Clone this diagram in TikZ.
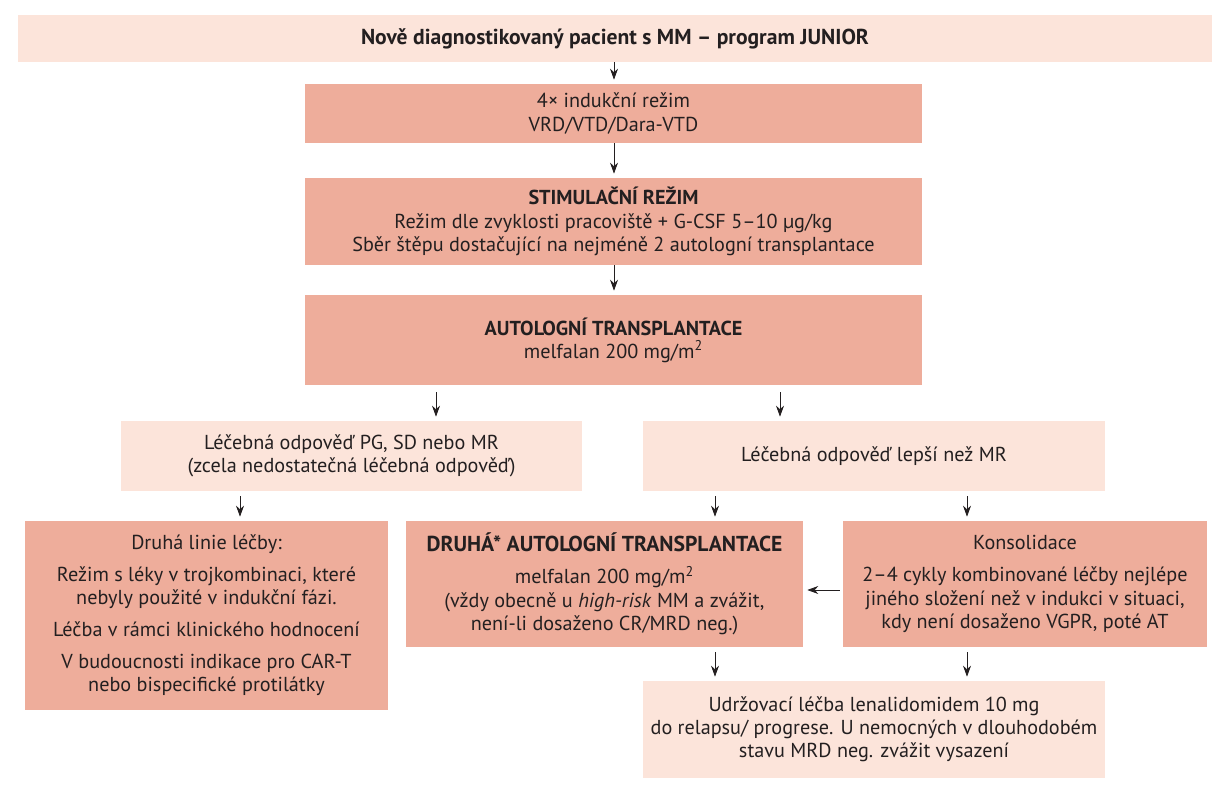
\documentclass[tikz,border=0pt]{standalone}
\usepackage{fontspec}
\setmainfont{PT Sans}
\usetikzlibrary{arrows.meta,positioning}
\definecolor{lightsalmon}{RGB}{252,228,218}
\definecolor{darksalmon}{RGB}{238,173,155}
\definecolor{inkgray}{RGB}{35,31,32}
\tikzstyle{arrow} = [thin, draw=inkgray, -{Stealth[length=0.22cm,width=0.16cm]}, shorten >=0.08cm]
\tikzstyle{lightbox} = [fill=lightsalmon, inner sep=0pt, align=center, text=inkgray]
\tikzstyle{darkbox} = [fill=darksalmon, inner sep=0pt, align=center, text=inkgray]

\begin{document}
\begin{tikzpicture}[x=0.02cm,y=-0.02cm,font=\fontsize{11.5}{13.2}\selectfont]
\useasboundingbox (0,0) rectangle (1218,800);
\node[lightbox, minimum width=23.88cm, minimum height=0.94cm] (patient) at (615,38.5) {\textbf{\fontsize{12.3}{13.2}\selectfont Nově diagnostikovaný pacient s MM – program JUNIOR}};
\node[darkbox, minimum width=12.34cm, minimum height=1.18cm] (induction) at (613.5,113.5) {4× indukční režim\\VRD/VTD/Dara-VTD};
\node[darkbox, minimum width=12.34cm, minimum height=1.74cm] (stimulation) at (613.5,221.5) {\textbf{STIMULAČNÍ REŽIM}\\Režim dle zvyklosti pracoviště + G-CSF 5–10 µg/kg\\Sběr štěpu dostačující na nejméně 2 autologní transplantace};
\node[darkbox, minimum width=12.34cm, minimum height=1.80cm] (asct) at (613.5,340) {\textbf{AUTOLOGNÍ TRANSPLANTACE}\\melfalan 200 mg/m\textsuperscript{2}};

\node[lightbox, minimum width=9.22cm, minimum height=1.40cm] (poor) at (351.5,456) {Léčebná odpověď PG, SD nebo MR\\(zcela nedostatečná léčebná odpověď)};
\node[lightbox, minimum width=9.24cm, minimum height=1.40cm] (better) at (874,456) {Léčebná odpověď lepší než MR};

\node[darkbox, minimum width=7.26cm, minimum height=3.78cm] (secondline) at (206.5,615.5) {Druhá linie léčby:\\[5pt]Režim s léky v trojkombinaci, které\\nebyly použité v indukční fázi.\\[5pt]Léčba v rámci klinického hodnocení\\[5pt]V budoucnosti indikace pro CAR-T\\nebo bispecifické protilátky};
\node[darkbox, minimum width=7.94cm, minimum height=2.52cm] (secondasct) at (604.5,584) {\textbf{\fontsize{12.3}{13.2}\selectfont DRUHÁ* AUTOLOGNÍ TRANSPLANTACE}\\[5pt]melfalan 200 mg/m\textsuperscript{2}\\(vždy obecně u \textit{high-risk} MM a zvážit,\\není-li dosaženo CR/MRD neg.)};
\node[darkbox, minimum width=7.28cm, minimum height=2.52cm] (consolidation) at (1025,584) {Konsolidace\\[5pt]2–4 cykly kombinované léčby nejlépe\\jiného složení než v indukci v situaci,\\kdy není dosaženo VGPR, poté AT};
\node[lightbox, minimum width=9.24cm, minimum height=1.94cm] (maintenance) at (874,729.5) {Udržovací léčba lenalidomidem 10 mg\\do relapsu/ progrese. U nemocných v dlouhodobém\\stavu MRD neg. zvážit vysazení};

\draw[arrow] (patient.south -| 614,0) -- (induction.north -| 614,0);
\draw[arrow] (induction.south -| 614,0) -- (stimulation.north -| 614,0);
\draw[arrow] (stimulation.south -| 614,0) -- (asct.north -| 614,0);
\draw[arrow, shorten <=0.14cm] (asct.south -| 436,0) -- (poor.north -| 436,0);
\draw[arrow, shorten <=0.14cm] (asct.south -| 780,0) -- (better.north -| 780,0);
\draw[arrow, shorten <=0.1cm] (poor.south -| 240,0) -- (secondline.north -| 240,0);
\draw[arrow, shorten <=0.1cm] (better.south -| 715,0) -- (secondasct.north -| 715,0);
\draw[arrow, shorten <=0.1cm] (better.south -| 967,0) -- (consolidation.north -| 967,0);
\draw[arrow, shorten <=0.06cm] (consolidation.west |- 0,590) -- (secondasct.east |- 0,590);
\draw[arrow, shorten <=0.1cm] (secondasct.south -| 715,0) -- (maintenance.north -| 715,0);
\draw[arrow, shorten <=0.1cm] (consolidation.south -| 967,0) -- (maintenance.north -| 967,0);
\end{tikzpicture}
\end{document}
